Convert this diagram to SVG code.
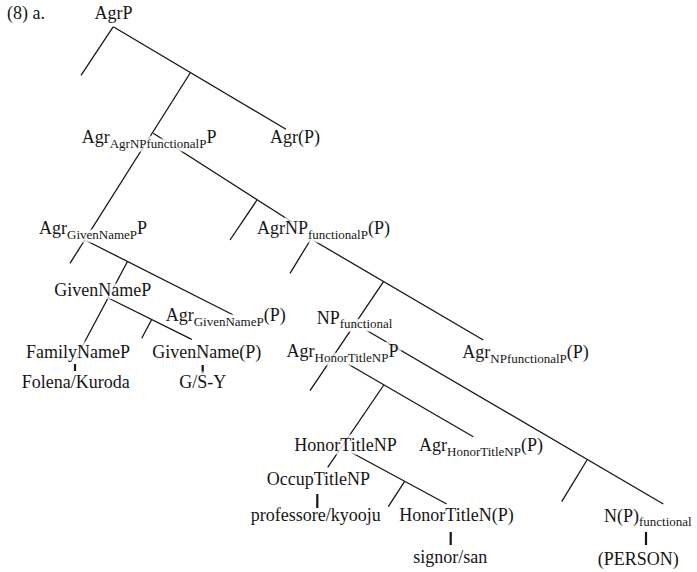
<svg xmlns="http://www.w3.org/2000/svg" xmlns:xlink="http://www.w3.org/1999/xlink" width="697" height="572" viewBox="0 0 697 572">
  <style>
    text { font-family: "Liberation Serif", "Times New Roman", serif; font-size: 18px; }
    .sub { font-size: 13px; }
    /* each label is drawn twice: a translucent white outline first, then the ink,
       so branches passing under a label show faintly */
    .halo { fill: none; stroke: #ffffff; stroke-opacity: 0.74; stroke-width: 7; stroke-linejoin: round; }
    .ink { fill: #161616; stroke: none; }
    .edge { stroke: #161616; stroke-width: 1.3; fill: none; stroke-linecap: butt; }
    .tick { stroke: #161616; stroke-width: 2.2; fill: none; }
  </style>

  <defs>
    <text id="t-agrp" x="94.5" y="19">AgrP</text>
    <text id="t-agr-agrnpfp" x="81.7" y="143">Agr<tspan class="sub" dy="5">AgrNPfunctionalP</tspan><tspan dy="-5">P</tspan></text>
    <text id="t-agr-p" x="270" y="143">Agr(P)</text>
    <text id="t-agr-givennamep" x="39" y="234">Agr<tspan class="sub" dy="5">GivenNameP</tspan><tspan dy="-5">P</tspan></text>
    <text id="t-agrnp-functional" x="257" y="234">AgrNP<tspan class="sub" dy="5">functionalP</tspan><tspan dy="-5">(P)</tspan></text>
    <text id="t-givennamep" x="54.3" y="296">GivenNameP</text>
    <text id="t-agr-givenname-head" x="165.7" y="321">Agr<tspan class="sub" dy="5">GivenNameP</tspan><tspan dy="-5">(P)</tspan></text>
    <text id="t-np-functional" x="316.7" y="324">NP<tspan class="sub" dy="4">functional</tspan></text>
    <text id="t-agr-honortitlenp" x="286.5" y="357">Agr<tspan class="sub" dy="5">HonorTitleNP</tspan><tspan dy="-5">P</tspan></text>
    <text id="t-agr-npfunctional-head" x="462.3" y="358">Agr<tspan class="sub" dy="5">NPfunctionalP</tspan><tspan dy="-5">(P)</tspan></text>
    <text id="t-familynamep" x="26" y="358">FamilyNameP</text>
    <text id="t-givenname" x="152.3" y="358">GivenName(P)</text>
    <text id="t-folena" x="21.7" y="388">Folena/Kuroda</text>
    <text id="t-gsy" x="179.3" y="388">G/S-Y</text>
    <text id="t-honortitlenp" x="294.3" y="450.7">HonorTitleNP</text>
    <text id="t-agr-honortitle-head" x="419" y="450.7">Agr<tspan class="sub" dy="5">HonorTitleNP</tspan><tspan dy="-5">(P)</tspan></text>
    <text id="t-occuptitlenp" x="266.7" y="485">OccupTitleNP</text>
    <text id="t-professore" x="250.7" y="520.7">professore/kyooju</text>
    <text id="t-honortitlen" x="399.3" y="520.7">HonorTitleN(P)</text>
    <text id="t-signor" x="413.3" y="563.3">signor/san</text>
    <text id="t-np-functional-head" x="604" y="521.7">N(P)<tspan class="sub" dy="4">functional</tspan></text>
    <text id="t-person" x="597.7" y="565">(PERSON)</text>
  </defs>

  <rect width="697" height="572" fill="#ffffff"/>

  <g id="connectors">
    <line class="edge" x1="113.3" y1="26.7" x2="81" y2="75.3"/>
    <line class="edge" x1="113.3" y1="26.7" x2="286" y2="129.3"/>
    <line class="edge" x1="190.5" y1="72.5" x2="70" y2="263.3"/>
    <line class="edge" x1="153.3" y1="133.3" x2="292" y2="222"/>
    <line class="edge" x1="257" y1="200" x2="230" y2="240"/>
    <line class="edge" x1="85" y1="240" x2="233.3" y2="315"/>
    <line class="edge" x1="127.5" y1="261.5" x2="75" y2="360"/>
    <line class="edge" x1="108.3" y1="298" x2="191.7" y2="339.3"/>
    <line class="edge" x1="151.7" y1="319.5" x2="141.7" y2="338.3"/>
    <line class="edge" x1="311" y1="239" x2="290" y2="273.3"/>
    <line class="edge" x1="311" y1="239" x2="483.3" y2="340"/>
    <line class="edge" x1="383.5" y1="281.7" x2="310" y2="390.7"/>
    <line class="edge" x1="354" y1="323" x2="663.3" y2="504"/>
    <line class="edge" x1="587" y1="460" x2="561.7" y2="501.7"/>
    <line class="edge" x1="346.7" y1="363.3" x2="473.3" y2="436.7"/>
    <line class="edge" x1="383.8" y1="385" x2="327.7" y2="467.3"/>
    <line class="edge" x1="350" y1="451.7" x2="446.7" y2="504"/>
    <line class="edge" x1="404.5" y1="481.7" x2="388.3" y2="506.7"/>
    <line class="tick" x1="75" y1="364" x2="75" y2="371"/>
    <line class="tick" x1="202.7" y1="365" x2="202.7" y2="374"/>
    <line class="tick" x1="317.3" y1="494" x2="317.3" y2="508"/>
    <line class="tick" x1="450.7" y1="532" x2="450.7" y2="545"/>
    <line class="tick" x1="646" y1="532" x2="646" y2="545"/>
  </g>

  <text class="ink" x="7" y="19">(8) a.</text>

  <g id="n-agrp"><use class="halo" href="#t-agrp"/><use class="ink" href="#t-agrp"/></g>
  <g id="n-agr-agrnpfp"><use class="halo" href="#t-agr-agrnpfp"/><use class="ink" href="#t-agr-agrnpfp"/></g>
  <g id="n-agr-p"><use class="halo" href="#t-agr-p"/><use class="ink" href="#t-agr-p"/></g>
  <g id="n-agr-givennamep"><use class="halo" href="#t-agr-givennamep"/><use class="ink" href="#t-agr-givennamep"/></g>
  <g id="n-agrnp-functional"><use class="halo" href="#t-agrnp-functional"/><use class="ink" href="#t-agrnp-functional"/></g>
  <g id="n-givennamep"><use class="halo" href="#t-givennamep"/><use class="ink" href="#t-givennamep"/></g>
  <g id="n-agr-givenname-head"><use class="halo" href="#t-agr-givenname-head"/><use class="ink" href="#t-agr-givenname-head"/></g>
  <g id="n-np-functional"><use class="halo" href="#t-np-functional"/><use class="ink" href="#t-np-functional"/></g>
  <g id="n-agr-honortitlenp"><use class="halo" href="#t-agr-honortitlenp"/><use class="ink" href="#t-agr-honortitlenp"/></g>
  <g id="n-agr-npfunctional-head"><use class="halo" href="#t-agr-npfunctional-head"/><use class="ink" href="#t-agr-npfunctional-head"/></g>
  <g id="n-familynamep"><use class="halo" href="#t-familynamep"/><use class="ink" href="#t-familynamep"/></g>
  <g id="n-givenname"><use class="halo" href="#t-givenname"/><use class="ink" href="#t-givenname"/></g>
  <g id="n-folena"><use class="halo" href="#t-folena"/><use class="ink" href="#t-folena"/></g>
  <g id="n-gsy"><use class="halo" href="#t-gsy"/><use class="ink" href="#t-gsy"/></g>
  <g id="n-honortitlenp"><use class="halo" href="#t-honortitlenp"/><use class="ink" href="#t-honortitlenp"/></g>
  <g id="n-agr-honortitle-head"><use class="halo" href="#t-agr-honortitle-head"/><use class="ink" href="#t-agr-honortitle-head"/></g>
  <g id="n-occuptitlenp"><use class="halo" href="#t-occuptitlenp"/><use class="ink" href="#t-occuptitlenp"/></g>
  <g id="n-professore"><use class="halo" href="#t-professore"/><use class="ink" href="#t-professore"/></g>
  <g id="n-honortitlen"><use class="halo" href="#t-honortitlen"/><use class="ink" href="#t-honortitlen"/></g>
  <g id="n-signor"><use class="halo" href="#t-signor"/><use class="ink" href="#t-signor"/></g>
  <g id="n-np-functional-head"><use class="halo" href="#t-np-functional-head"/><use class="ink" href="#t-np-functional-head"/></g>
  <g id="n-person"><use class="halo" href="#t-person"/><use class="ink" href="#t-person"/></g>
</svg>
